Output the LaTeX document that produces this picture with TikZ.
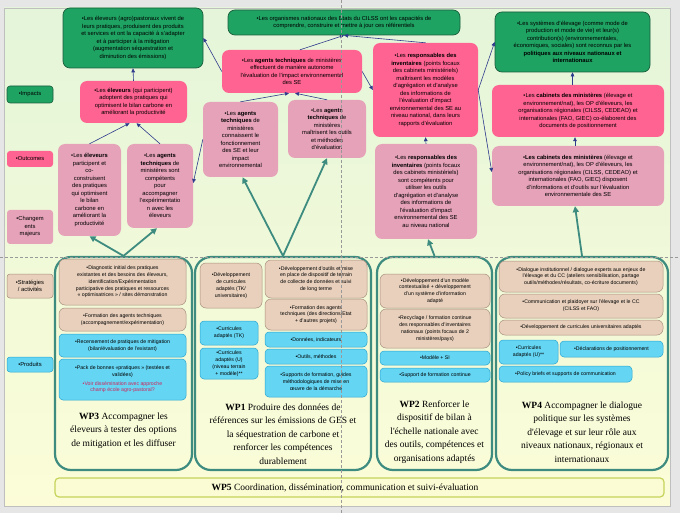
\documentclass[tikz,border=0pt]{standalone}
\usepackage{fontspec}
\setmainfont{Liberation Sans}
\newfontfamily\wpserif{Liberation Serif}
\usetikzlibrary{arrows.meta}
\definecolor{cG}{HTML}{1FA363}
\definecolor{cGd}{HTML}{1B5E3E}
\definecolor{cHP}{HTML}{FF6392}
\definecolor{cLP}{HTML}{E5A2B8}
\definecolor{cTan}{HTML}{E8D0BC}
\definecolor{cTand}{HTML}{A89080}
\definecolor{cCy}{HTML}{64D5F3}
\definecolor{cCyd}{HTML}{2DA5CF}
\definecolor{cTeal}{HTML}{3E8B80}
\definecolor{cNav}{HTML}{2E3A8C}
\definecolor{cRed}{HTML}{D0245A}
\definecolor{cBgT}{HTML}{E4F5D9}
\definecolor{cBgB}{HTML}{FCFDD8}
\definecolor{cFrame}{HTML}{E6E6E6}
\definecolor{cWPf}{HTML}{FBFCD3}
\definecolor{cWPd}{HTML}{C5D35A}
\newcommand\topfnt{\fontsize{5.8}{7.5}\selectfont}
\newcommand\botfnt{\fontsize{5.2}{6.8}\selectfont}
\newcommand\wpfnt{\wpserif\fontsize{9.5}{13.5}\selectfont}
\begin{document}
\begin{tikzpicture}[x=1pt,y=-1pt,
  sz/.style 2 args={minimum width=#1pt,minimum height=#2pt},
  boxbase/.style={align=center,inner sep=1pt,font=\topfnt,text=black,rounded corners=7pt},
  gbox/.style={boxbase,fill=cG,draw=cGd,line width=0.7pt},
  hpbox/.style={boxbase,fill=cHP},
  lpbox/.style={boxbase,fill=cLP},
  tanbox/.style={boxbase,font=\botfnt,fill=cTan,draw=cTand,line width=0.5pt,rounded corners=6pt},
  cybox/.style={boxbase,font=\botfnt,fill=cCy,draw=cCyd,line width=0.5pt,rounded corners=4pt},
  lblbox/.style={boxbase,rounded corners=3pt,sz={46}{#1}},
  wpbox/.style={draw=cTeal,line width=2.2pt,rounded corners=16pt},
  wptitle/.style={align=center,font=\wpfnt,inner sep=0pt},
  nav/.style={draw=cNav,line width=0.6pt,-{Triangle[length=4pt,width=3.6pt]}},
  tea/.style={draw=cTeal,line width=1.8pt,-{Triangle[length=6pt,width=6pt]}},
  dsh/.style={draw=gray!80,line width=0.5pt,dash pattern=on 3pt off 2pt},
]
\useasboundingbox (0,0) rectangle (680,513);
\fill[cFrame] (0,0) rectangle (680,513);
\shade[top color=cBgT,bottom color=cBgB,draw=gray!50,line width=0.4pt] (4,8) rectangle (670,506);

% ---------- left column labels
\node[lblbox=17,fill=cG,draw=cGd,line width=0.6pt] (limp) at (30,94.5) {•Impacts};
\node[lblbox=16,fill=cHP] (lout) at (30,159) {•Outcomes};
\node[lblbox=34,fill=cLP] (lchg) at (30,227) {•Changem\\ents\\majeurs};
\node[lblbox=24,fill=cTan,draw=cTand,line width=0.5pt] (lstr) at (30,286) {•Stratégies\\/ activités};
\node[lblbox=15,fill=cCy,draw=cCyd,line width=0.5pt] (lprd) at (30,364.5) {•Produits};

% ---------- impacts (green)
\node[gbox,sz={140}{60}] (g1) at (133,38) {•Les éleveurs (agro)pastoraux vivent de\\leurs pratiques, produisent des produits\\et services et ont la capacité à s'adapter\\et à participer à la mitigation\\(augmentation séquestration et\\diminution des émissions)};
\node[gbox,sz={232}{25}] (g2) at (344,22.5) {•Les organismes nationaux des Etats du CILSS ont les capacités de\\comprendre, construire et mettre à jour ces référentiels};
\node[gbox,sz={155}{60}] (g3) at (572.5,42) {•Les systèmes d'élevage (comme mode de\\production et mode de vie) et leur(s)\\contribution(s) (environnementales,\\économiques, sociales) sont reconnus par les\\\textbf{politiques aux niveaux nationaux et}\\\textbf{internationaux}};

% ---------- outcomes (hot pink)
\node[hpbox,sz={107}{42}] (p1) at (133.5,102) {•Les \textbf{éleveurs} (qui participent)\\adoptent des pratiques qui\\optimisent le bilan carbone en\\améliorant la productivité};
\node[hpbox,sz={140}{43}] (p2) at (292,71.5) {•Les \textbf{agents techniques} de ministères\\effectuent de manière autonome\\l'évaluation de l'impact environnemental\\des SE};
\node[hpbox,sz={105}{94}] (p3) at (425.5,90) {•Les \textbf{responsables des}\\\textbf{inventaires} (points focaux\\des cabinets ministériels)\\maîtrisent les modèles\\d'agrégation et d'analyse\\des informations de\\l'évaluation d'impact\\environnemental des SE au\\niveau national, dans leurs\\rapports d'évaluation};
\node[hpbox,sz={172}{52}] (p4) at (578,111) {•Les \textbf{cabinets des ministères} (élevage et\\environnement/nat), les OP d'éleveurs, les\\organisations régionales (CILSS, CEDEAO) et\\internationales (FAO, GIEC) co-élaborent des\\documents de positionnement};

% ---------- changements majeurs (light pink)
\node[lpbox,sz={63}{92}] (l1) at (89.5,190) {•Les \textbf{éleveurs}\\participent et\\co-\\construisent\\des pratiques\\qui optimisent\\le bilan\\carbone en\\améliorant la\\productivité};
\node[lpbox,sz={66}{84}] (l2) at (160,186) {•Les \textbf{agents}\\\textbf{techniques} de\\ministères sont\\compétents\\pour\\accompagner\\l'expérimentatio\\n avec les\\éleveurs};
\node[lpbox,sz={75}{75}] (l3) at (240.5,139.5) {•Les \textbf{agents}\\\textbf{techniques} de\\ministères\\connaissent le\\fonctionnement\\des SE et leur\\impact\\environnemental};
\node[lpbox,sz={78}{58}] (l4) at (327,129) {•Les \textbf{agents}\\\textbf{techniques} de\\ministères\\maîtrisent les outils\\et méthodes\\d'évaluation};
\node[lpbox,sz={102}{95}] (l5) at (426,191.5) {•Les \textbf{responsables des}\\\textbf{inventaires} (points focaux\\des cabinets ministériels)\\sont compétents pour\\utiliser les outils\\d'agrégation et d'analyse\\des informations de\\l'évaluation d'impact\\environnemental des SE\\au niveau national};
\node[lpbox,sz={172}{60}] (l6) at (578,176) {•\textbf{Les cabinets des ministères} (élevage et\\environnement/nat), les OP d'éleveurs, les\\organisations régionales (CILSS, CEDEAO) et\\internationales (FAO, GIEC) disposent\\d'informations et d'outils sur l'évaluation\\environnementale des SE};

% ---------- WP containers
\node[wpbox,sz={137}{213}] (wp3) at (123.5,363.5) {};
\node[wpbox,sz={176}{213}] (wp1) at (283,363.5) {};
\node[wpbox,sz={115}{213}] (wp2) at (434.5,363.5) {};
\node[wpbox,sz={172}{213}] (wp4) at (582,363.5) {};

% WP3 content
\node[tanbox,sz={127}{46}] (d1) at (122.5,282) {•Diagnostic initial des pratiques\\existantes et des besoins des éleveurs,\\identification/Expérimentation\\participative des pratiques et ressources\\« optimisatrices » / sites démonstration};
\node[tanbox,sz={127}{23}] (d2) at (122.5,319.5) {•Formation des agents techniques\\(accompagnement/expérimentation)};
\node[cybox,sz={127}{23}] (d3) at (122.5,345.5) {•Recensement de pratiques de mitigation\\(bilan/évaluation de l'existant)};
\node[cybox,sz={127}{41}] (d4) at (122.5,379.5) {•Pack de bonnes «pratiques » (testées et\\validées)\\[1.5pt]\textcolor{cRed}{•Voir dissémination avec approche}\\\textcolor{cRed}{champ école agro-pastoral?}};

% WP1 content
\node[tanbox,sz={62}{45}] (e1) at (231,285.5) {•Développement\\de curricules\\adaptés (TK/\\universitaires)};
\node[tanbox,sz={102}{38}] (e2) at (316,279) {•Développement d'outils et mise\\en place de dispositif de terrain\\de collecte de données et suivi\\de long terme};
\node[tanbox,sz={102}{31}] (e3) at (316,314.5) {•Formation des agents\\techniques (des directions/Etat\\+ d'autres projets)};
\node[cybox,sz={58}{24}] (e4) at (229,333) {•Curricules\\adaptés (TK)};
\node[cybox,sz={58}{31}] (e5) at (229,363.5) {•Curricules\\adaptés (U)\\(niveau terrain\\+ modèle)**};
\node[cybox,sz={102}{15}] (e6) at (316,339.5) {•Données, indicateurs};
\node[cybox,sz={102}{15}] (e7) at (316,356.5) {•Outils, méthodes};
\node[cybox,sz={102}{31}] (e8) at (316,381.5) {•Supports de formation, guides\\méthodologiques de mise en\\œuvre de la démarche};

% WP2 content
\node[tanbox,sz={110}{34}] (f1) at (435,291) {•Développement d'un modèle\\contextualisé + développement\\d'un système d'information\\adapté};
\node[tanbox,sz={110}{39}] (f2) at (435,328.5) {•Recyclage / formation continue\\des responsables d'inventaires\\nationaux (points focaux de 2\\ministères/pays)};
\node[cybox,sz={110}{14}] (f3) at (435,358) {•Modèle + SI};
\node[cybox,sz={110}{14}] (f4) at (435,375) {•Support de formation continue};

% WP4 content
\node[tanbox,sz={164}{31}] (h1) at (581,276.5) {•Dialogue institutionnel / dialogue experts aux enjeux de\\l'élevage et du CC (ateliers sensibilisation, partage\\outils/méthodes/résultats, co-écriture documents)};
\node[tanbox,sz={164}{24}] (h2) at (581,306) {•Communication et plaidoyer sur l'élevage et le CC\\(CILSS et FAO)};
\node[tanbox,sz={164}{15}] (h3) at (581,327.5) {•Développement de curricules universitaires adaptés};
\node[cybox,sz={59}{24}] (h4) at (528.5,352) {•Curricules\\adaptés (U)**};
\node[cybox,sz={103}{16}] (h5) at (611.5,349) {•Déclarations de positionnement};
\node[cybox,sz={133}{16}] (h6) at (565.5,374) {•Policy briefs et supports de communication};

% WP titles
\node[wptitle] (t3) at (123.5,430.5) {\textbf{WP3} Accompagner les\\éleveurs à tester des options\\de mitigation et les diffuser};
\node[wptitle] (t1) at (283,434) {\textbf{WP1} Produire des données de\\références sur les émissions de GES et\\la séquestration de carbone et\\renforcer les compétences\\durablement};
\node[wptitle] (t2) at (434.5,432) {\textbf{WP2} Renforcer le\\dispositif de bilan à\\l'échelle nationale avec\\des outils, compétences et\\organisations adaptés};
\node[wptitle] (t4) at (582,432) {\textbf{WP4} Accompagner le dialogue\\politique sur les systèmes\\d'élevage et sur leur rôle aux\\niveaux nationaux, régionaux et\\internationaux};

% WP5
\node[draw=cWPd,fill=cWPf,line width=1.2pt,rounded corners=4pt,sz={609}{19}] (wp5) at (359.5,487.5) {};
\node[wptitle] (t5) at (345,488) {\textbf{WP5} Coordination, dissémination, communication et suivi-évaluation};

% ---------- navy connectors
\draw[nav] (p1.north) -- (g1.south);
\draw[nav] (p2.west) -- (g1.east);
\draw[nav] ([xshift=8pt]p2.north) -- (g2.south);
\draw[nav] (p3.north) -- (g2.south);
\draw[nav] (p2.east) -- (p3.west);
\draw[nav] (p3.east) -- (g3.west);
\draw[nav] (p3.east) -- ([yshift=4pt]l6.west);
\draw[nav] (g3.south |- p4.north) -- (g3.south);
\draw[nav] ([xshift=-3pt]l6.north) -- ([xshift=-3pt]p4.south);
\draw[nav] (l5.north) -- (p3.south);
\draw[nav] (l3.north) -- ([xshift=-3pt]p2.south);
\draw[nav] (l4.north) -- ([xshift=3pt]p2.south);
\draw[nav] (l3.west) -- ([yshift=3pt]l2.east);
\draw[nav] (l1.north) -- ([xshift=-4pt]p1.south);
\draw[nav] (l2.north) -- ([xshift=3pt]p1.south);

% ---------- teal connectors
\draw[tea] (wp3.north) -- (l1.south);
\draw[tea] (wp3.north) -- ([xshift=-3pt]l2.south);
\draw[tea] (wp1.north) -- ([xshift=2pt]l3.south);
\draw[tea] (wp1.north) -- (l4.south);
\draw[tea] (wp2.north) -- ([xshift=2pt]l5.south);
\draw[tea] (wp4.north) -- ([xshift=-3pt]l6.south);

% ---------- dashed guides
\draw[dsh] (0,257) -- (680,257);
\draw[dsh] (341,0) -- (341,513);
\end{tikzpicture}
\end{document}
